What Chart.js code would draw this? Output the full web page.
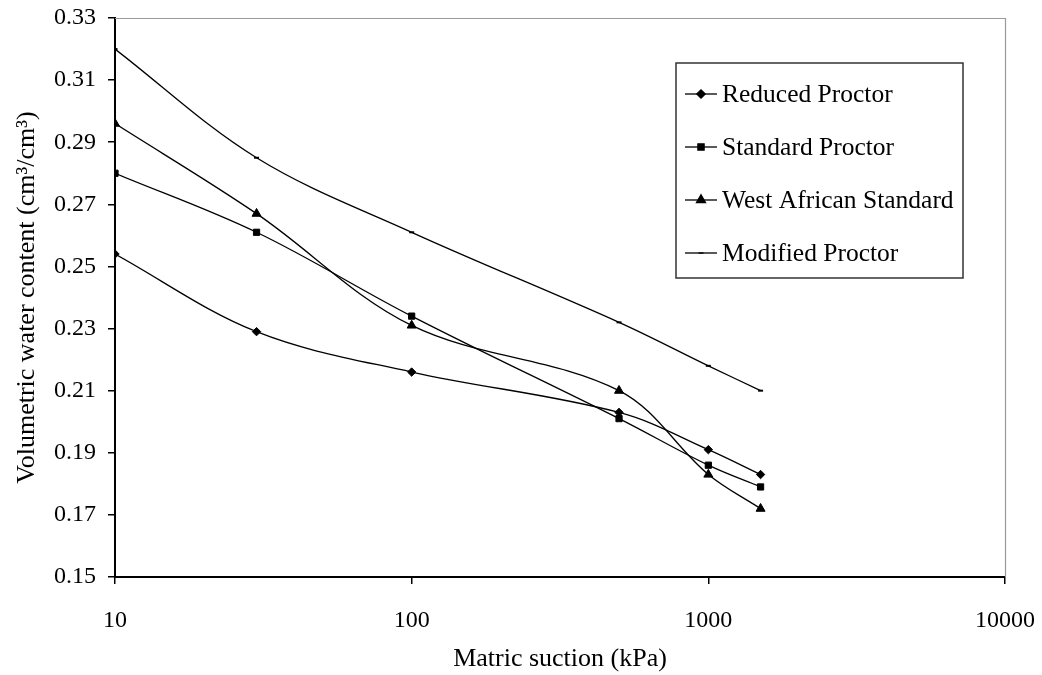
<!DOCTYPE html>
<html>
<head>
<meta charset="utf-8">
<script src="https://cdn.jsdelivr.net/npm/chart.js@4.4.1/dist/chart.umd.min.js"></script>
<style>
  html, body { margin: 0; padding: 0; background: #fff; }
  #wrap { width: 1042px; height: 675px; }
</style>
</head>
<body>
<div id="wrap"><canvas id="c" width="1042" height="675"></canvas></div>
<script>
// Matric suction (kPa) at which water content was measured
const suction = [10, 30, 100, 500, 1000, 1500];

// Volumetric water content (cm3/cm3) for each compaction effort
const reducedProctor   = [0.254, 0.229, 0.216, 0.203, 0.191, 0.183];
const standardProctor  = [0.280, 0.261, 0.234, 0.201, 0.186, 0.179];
const westAfrican      = [0.296, 0.267, 0.231, 0.210, 0.183, 0.172];
const modifiedProctor  = [0.320, 0.285, 0.261, 0.232, 0.218, 0.210];

const seriesNames = ['Reduced Proctor', 'Standard Proctor', 'West African Standard', 'Modified Proctor'];

// Axis ticks
const xTicks = [10, 100, 1000, 10000];
const yMin = 0.15, yMax = 0.33, yStep = 0.02;

const SERIF = '"Liberation Serif", "Times New Roman", serif';

function pairs(ys) { return suction.map((x, i) => ({ x: x, y: ys[i] })); }

function series(label, ys, style, radius, bw) {
  return {
    label: label,
    data: pairs(ys),
    borderColor: '#000',
    backgroundColor: '#000',
    borderWidth: 1.3,
    tension: 0.35,
    cubicInterpolationMode: 'default',
    pointStyle: style,
    pointRadius: radius,
    pointBorderWidth: bw,
    pointBackgroundColor: '#000',
    pointBorderColor: '#000',
    fill: false
  };
}

const datasets = [
  series(seriesNames[0], reducedProctor, 'rectRot', 4.2, 1),
  series(seriesNames[1], standardProctor, 'rect', 4.4, 1),
  series(seriesNames[2], westAfrican, 'triangle', 5.2, 1),
  series(seriesNames[3], modifiedProctor, 'line', 2.5, 2)
];

// Gray frame on the top and right of the plot area
const frame = {
  id: 'frame',
  beforeDatasetsDraw(chart) {
    const a = chart.chartArea, ctx = chart.ctx;
    ctx.save();
    ctx.strokeStyle = '#9a9a9a';
    ctx.lineWidth = 1.2;
    ctx.beginPath();
    ctx.moveTo(a.left, a.top + 0.5);
    ctx.lineTo(a.right + 0.5, a.top + 0.5);
    ctx.lineTo(a.right + 0.5, a.bottom);
    ctx.stroke();
    ctx.restore();
  }
};

// Boxed legend drawn inside the plot area
const boxLegend = {
  id: 'boxLegend',
  afterDatasetsDraw(chart) {
    const ctx = chart.ctx;
    const box = { x: 676, y: 63, w: 287, h: 215 };
    ctx.save();
    ctx.fillStyle = '#fff';
    ctx.fillRect(box.x, box.y, box.w, box.h);
    ctx.strokeStyle = '#333';
    ctx.lineWidth = 1.5;
    ctx.strokeRect(box.x, box.y, box.w, box.h);
    ctx.font = '25.5px ' + SERIF;
    ctx.textBaseline = 'middle';
    chart.data.datasets.forEach((ds, i) => {
      const cy = box.y + 31 + i * 53;
      ctx.strokeStyle = '#000';
      ctx.lineWidth = 1.3;
      ctx.beginPath();
      ctx.moveTo(685, cy);
      ctx.lineTo(717, cy);
      ctx.stroke();
      ctx.fillStyle = '#000';
      Chart.helpers.drawPoint(ctx, {
        pointStyle: ds.pointStyle,
        radius: ds.pointRadius,
        borderWidth: ds.pointBorderWidth,
        rotation: 0
      }, 701, cy);
      ctx.fillStyle = '#000';
      ctx.fillText(ds.label, 722, cy + 1);
    });
    ctx.restore();
  }
};

new Chart(document.getElementById('c'), {
  type: 'line',
  data: { datasets: datasets },
  plugins: [frame, boxLegend],
  options: {
    responsive: false,
    animation: false,
    devicePixelRatio: 1,
    layout: { padding: { top: 18, right: 37, left: 0, bottom: 0 } },
    plugins: { legend: { display: false }, tooltip: { enabled: false } },
    scales: {
      x: {
        type: 'logarithmic',
        min: 10,
        max: 10000,
        afterBuildTicks(scale) { scale.ticks = xTicks.map(v => ({ value: v, major: true })); },
        afterFit(scale) { scale.height = 98; scale.paddingLeft = 0; scale.paddingRight = 0; },
        ticks: {
          autoSkip: false,
          maxRotation: 0,
          padding: 22,
          color: '#000',
          font: { family: SERIF, size: 24 },
          callback: v => String(v)
        },
        grid: { display: true, drawOnChartArea: false, drawTicks: true, tickLength: 7, color: '#000', lineWidth: 1.5 },
        border: { display: true, color: '#000', width: 2 },
        title: {
          display: true,
          text: 'Matric suction (kPa)',
          color: '#000',
          font: { family: SERIF, size: 26 },
          padding: { top: 4, bottom: 0 }
        }
      },
      y: {
        type: 'linear',
        min: yMin,
        max: yMax,
        afterFit(scale) { scale.width = 115; scale.paddingTop = 0; scale.paddingBottom = 0; },
        ticks: {
          stepSize: yStep,
          padding: 12,
          color: '#000',
          font: { family: SERIF, size: 24 },
          callback: v => v.toFixed(2)
        },
        grid: { display: true, drawOnChartArea: false, drawTicks: true, tickLength: 7, color: '#000', lineWidth: 1.5 },
        border: { display: true, color: '#000', width: 2 },
        title: {
          display: true,
          text: 'Volumetric water content (cm³/cm³)',
          color: '#000',
          font: { family: SERIF, size: 26 },
          padding: { top: 12, bottom: 0 }
        }
      }
    }
  }
});
</script>
</body>
</html>
